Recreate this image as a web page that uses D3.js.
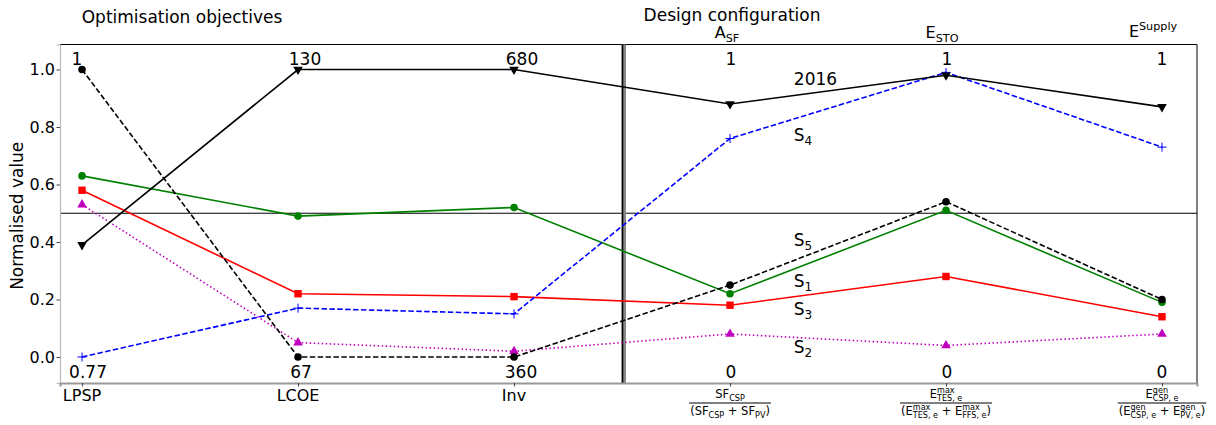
<!DOCTYPE html>
<html>
<head>
<meta charset="utf-8">
<script src="https://cdn.jsdelivr.net/npm/d3@7"></script>
<style>
  html, body { margin: 0; padding: 0; background: #fff; }
  svg { display: block; font-family: "DejaVu Sans", sans-serif; }
</style>
</head>
<body>
<svg id="chart" width="1216" height="425"></svg>
<script>
// ---------------- data ----------------
const categories = ["LPSP", "LCOE", "Inv", "ASF", "ESTO", "ESupply"];
const topLabels = ["1", "130", "680", "1", "1", "1"];
const bottomLabels = ["0.77", "67", "360", "0", "0", "0"];
const yTicks = [0.0, 0.2, 0.4, 0.6, 0.8, 1.0];

const s2016 = [0.39, 1.00, 1.00, 0.88, 0.98, 0.87];
const sS1   = [0.63, 0.49, 0.52, 0.22, 0.51, 0.19];
const sS2   = [0.53, 0.05, 0.02, 0.08, 0.04, 0.08];
const sS3   = [0.58, 0.22, 0.21, 0.18, 0.28, 0.14];
const sS4   = [0.00, 0.17, 0.15, 0.76, 0.99, 0.73];
const sS5   = [1.00, 0.00, 0.00, 0.25, 0.54, 0.20];

const seriesNames = ["S1", "S3", "S2", "S4", "S5", "2016"];
const seriesValues = [sS1, sS3, sS2, sS4, sS5, s2016];

// label positions (category index, value) for in-plot series names
const seriesLabelPos = { "2016": [3.3, 0.945], "S4": [3.3, 0.75], "S5": [3.3, 0.385], "S1": [3.3, 0.245], "S3": [3.3, 0.147], "S2": [3.3, 0.014] };

// ---------------- styles ----------------
const styles = {
  "S1":   { color: "#008000", dash: null,        marker: "circle" },
  "S3":   { color: "#ff0000", dash: null,        marker: "square" },
  "S2":   { color: "#bf00bf", dash: "1.5,2.5",   marker: "triangleUp" },
  "S4":   { color: "#0000ff", dash: "5.5,2.4",   marker: "plus" },
  "S5":   { color: "#000000", dash: "5.5,2.4",   marker: "circle" },
  "2016": { color: "#000000", dash: null,        marker: "triangleDown" }
};

const svg = d3.select("#chart");
const L = 60, R = 1197, T = 44.5, B = 383;

const x = d3.scaleLinear().domain([-0.102, 5.162]).range([L, R]);
const y = d3.scaleLinear().domain([-0.0905, 1.087]).range([B, T]);

// ---------------- rich text helper ----------------
function richText(parent, cx, baseY, tokens, size, anchor) {
  const g = parent.append("g");
  let cursor = 0;
  const small = size * 0.7;
  tokens.forEach(tok => {
    const t = g.append("text").attr("x", cursor).attr("y", 0)
      .attr("font-size", size).attr("fill", "#000")
      .style("white-space", "pre").text(tok.t);
    cursor += t.node().getComputedTextLength();
    let w = 0;
    if (tok.sup) {
      const s = g.append("text").attr("x", cursor).attr("y", -size * 0.42)
        .attr("font-size", small).attr("fill", "#000").style("white-space", "pre").text(tok.sup);
      w = Math.max(w, s.node().getComputedTextLength());
    }
    if (tok.sub) {
      const s = g.append("text").attr("x", cursor).attr("y", size * 0.22)
        .attr("font-size", small).attr("fill", "#000").style("white-space", "pre").text(tok.sub);
      w = Math.max(w, s.node().getComputedTextLength());
    }
    cursor += w;
  });
  let dx = 0;
  if (anchor === "middle") dx = -cursor / 2;
  else if (anchor === "end") dx = -cursor;
  g.attr("transform", `translate(${cx + dx},${baseY})`);
  return { g, width: cursor };
}

function fraction(parent, cx, numTokens, denTokens, size) {
  const num = richText(parent, cx, 398, numTokens, size, "middle");
  const den = richText(parent, cx, 415, denTokens, size, "middle");
  const w = Math.max(num.width, den.width) + 2;
  parent.append("line").attr("x1", cx - w / 2).attr("x2", cx + w / 2)
    .attr("y1", 403).attr("y2", 403).attr("stroke", "#000").attr("stroke-width", 1);
}

// ---------------- frame ----------------
// 0.5 reference line
svg.append("line").attr("x1", L).attr("x2", R).attr("y1", y(0.5)).attr("y2", y(0.5))
  .attr("stroke", "#000").attr("stroke-width", 1);

// top & right spines
svg.append("line").attr("x1", L).attr("x2", R).attr("y1", T).attr("y2", T).attr("stroke", "#000").attr("stroke-width", 1);
svg.append("line").attr("x1", R).attr("x2", R).attr("y1", T).attr("y2", B).attr("stroke", "#000").attr("stroke-width", 1);

// separator between objectives and design configuration
const sepX = x(2.5) + 0.5;
svg.append("rect").attr("x", sepX - 1).attr("y", T).attr("width", 4.5).attr("height", B - T).attr("fill", "#888");
svg.append("line").attr("x1", sepX).attr("x2", sepX).attr("y1", T).attr("y2", B).attr("stroke", "#000").attr("stroke-width", 1.5);

// left axis
const yAxis = d3.axisLeft(y).tickValues(yTicks).tickFormat(d3.format(".1f")).tickSize(3.5).tickPadding(1.5);
const gy = svg.append("g").attr("transform", `translate(${L},0)`).call(yAxis);
gy.select(".domain").attr("stroke", "#bbb").attr("stroke-width", 1.2);
gy.selectAll(".tick line").attr("stroke", "#444");
gy.selectAll(".tick text").attr("font-size", 16).attr("font-family", "DejaVu Sans").attr("fill", "#000");

// bottom axis
const xAxis = d3.axisBottom(x).tickValues(d3.range(categories.length)).tickFormat(() => "").tickSize(3.5);
const gx = svg.append("g").attr("transform", `translate(0,${B})`).call(xAxis);
gx.select(".domain").attr("stroke", "#999").attr("stroke-width", 2);
gx.selectAll(".tick line").attr("stroke", "#444");

// y label
svg.append("text").attr("transform", `translate(23,${(T + B) / 2 + 2}) rotate(-90)`)
  .attr("text-anchor", "middle").attr("font-size", 17).text("Normalised value");

// x tick labels (objectives)
["LPSP", "LCOE", "Inv"].forEach((c, i) => {
  svg.append("text").attr("x", x(i)).attr("y", 401).attr("text-anchor", "middle")
    .attr("font-size", 16).text(c);
});

// fraction tick labels (design)
fraction(svg, x(3), [{ t: "SF", sub: "CSP" }],
  [{ t: "(SF", sub: "CSP" }, { t: " + SF", sub: "PV" }, { t: ")" }], 11.5);
fraction(svg, x(4), [{ t: "E", sup: "max", sub: "TES, e" }],
  [{ t: "(E", sup: "max", sub: "TES, e" }, { t: " + E", sup: "max", sub: "FFS, e" }, { t: ")" }], 11.5);
fraction(svg, x(5), [{ t: "E", sup: "gen", sub: "CSP, e" }],
  [{ t: "(E", sup: "gen", sub: "CSP, e" }, { t: " + E", sup: "gen", sub: "PV, e" }, { t: ")" }], 11.5);

// headers
svg.append("text").attr("x", 182).attr("y", 23).attr("text-anchor", "middle").attr("font-size", 17).text("Optimisation objectives");
svg.append("text").attr("x", x(3) + 2).attr("y", 21).attr("text-anchor", "middle").attr("font-size", 17).text("Design configuration");
richText(svg, x(3) - 3, 38, [{ t: "A", sub: "SF" }], 16, "middle");
richText(svg, x(4) - 4, 38, [{ t: "E", sub: "STO" }], 16, "middle");
richText(svg, x(5) - 9, 37, [{ t: "E", sup: "Supply" }], 16, "middle");

// top / bottom range labels
const labelOffsets = [-5, 7, 8, 1, 1, 0];
topLabels.forEach((t, i) => {
  svg.append("text").attr("x", x(i) + labelOffsets[i]).attr("y", 65).attr("text-anchor", "middle")
    .attr("font-size", 17).text(t);
});
const bottomOffsets = [6, 3, 7, 1, 1, 0];
bottomLabels.forEach((t, i) => {
  svg.append("text").attr("x", x(i) + bottomOffsets[i]).attr("y", 378).attr("text-anchor", "middle")
    .attr("font-size", 17).text(t);
});

// ---------------- series ----------------
const line = d3.line().x((d, i) => x(i)).y(d => y(d));
const sym = {
  circle: d3.symbol().type(d3.symbolCircle).size(45),
  square: d3.symbol().type(d3.symbolSquare).size(55),
  triangleUp: d3.symbol().type(d3.symbolTriangle).size(40),
  triangleDown: d3.symbol().type(d3.symbolTriangle).size(40),
  plus: d3.symbol().type(d3.symbolCross).size(40)
};

seriesNames.forEach((name, si) => {
  const vals = seriesValues[si];
  const st = styles[name];
  const g = svg.append("g");
  g.append("path").datum(vals).attr("d", line).attr("fill", "none")
    .attr("stroke", st.color).attr("stroke-width", 1.6)
    .attr("stroke-dasharray", st.dash);
  vals.forEach((v, i) => {
    if (st.marker === "plus") {
      g.append("path").attr("d", "M-4.5,0H4.5M0,-4.5V4.5")
        .attr("transform", `translate(${x(i)},${y(v)})`)
        .attr("stroke", st.color).attr("stroke-width", 1).attr("fill", "none");
    } else {
      const rot = st.marker === "triangleDown" ? " rotate(180)" : "";
      g.append("path").attr("d", sym[st.marker]())
        .attr("transform", `translate(${x(i)},${y(v)})${rot}`)
        .attr("fill", st.color);
    }
  });
});

// in-plot series names
Object.entries(seriesLabelPos).forEach(([name, p]) => {
  const px = x(p[0]) - 1, py = y(p[1]);
  if (name === "2016") {
    svg.append("text").attr("x", px).attr("y", py).attr("font-size", 17).text(name);
  } else {
    const t = svg.append("text").attr("x", px).attr("y", py).attr("font-size", 17);
    t.append("tspan").text("S");
    t.append("tspan").attr("font-size", 12).attr("dy", 4).text(name.slice(1));
  }
});
</script>
</body>
</html>
